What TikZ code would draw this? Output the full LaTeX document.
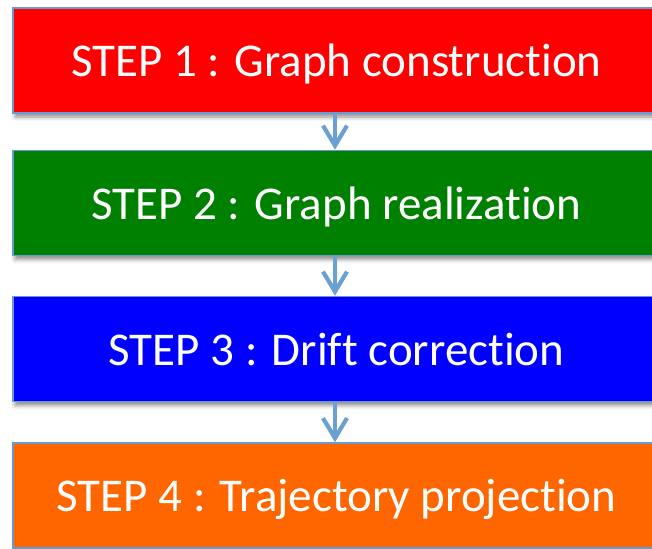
\documentclass[tikz,border=0pt]{standalone}
\usepackage{fontspec}
\setmainfont[RawFeature={-liga}]{Carlito}
\usetikzlibrary{arrows.meta,shadows.blur}
\definecolor{edgeblue}{RGB}{106,155,208}
\definecolor{arrowblue}{RGB}{106,160,210}
\definecolor{stepred}{RGB}{255,0,0}
\definecolor{stepgreen}{RGB}{0,128,0}
\definecolor{stepblue}{RGB}{0,0,255}
\definecolor{steporange}{RGB}{255,102,0}
\begin{document}
\begin{tikzpicture}[x=1pt,y=-1pt,
  stepbox/.style={draw=edgeblue,line width=1.6pt,minimum width=647pt,minimum height=105pt,
    inner sep=0pt,text=white,font=\fontsize{47}{47}\selectfont,
    text height=42pt,text depth=10pt,
    blur shadow={shadow xshift=2pt,shadow yshift=-4pt,shadow blur radius=4pt,shadow opacity=45}},
  flow/.style={draw=arrowblue,line width=3.2pt,-{Straight Barb[length=20pt,width=24pt,line width=4.2pt]}}]
  \useasboundingbox (0,0) rectangle (652,548);
  \node[stepbox,fill=stepred]    (s1) at (336.5,60.5)  {STEP 1 : Graph construction};
  \node[stepbox,fill=stepgreen]  (s2) at (336.5,203)   {STEP 2 : Graph realization};
  \node[stepbox,fill=stepblue]   (s3) at (336.5,349)   {STEP 3 : Drift correction};
  \node[stepbox,fill=steporange] (s4) at (336.5,495.5) {STEP 4 : Trajectory projection};
  \draw[flow] ([xshift=-1.5pt]s1.south) -- ([xshift=-1.5pt]s2.north);
  \draw[flow] ([xshift=-1.5pt]s2.south) -- ([xshift=-1.5pt]s3.north);
  \draw[flow] ([xshift=-1.5pt]s3.south) -- ([xshift=-1.5pt]s4.north);
\end{tikzpicture}
\end{document}
